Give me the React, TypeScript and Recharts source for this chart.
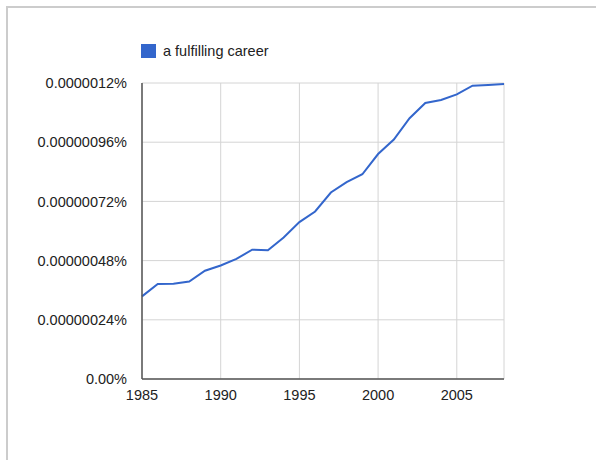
import React from 'react';
import { LineChart, Line, XAxis, YAxis, CartesianGrid } from 'recharts';

// values are in units of 0.00000001 %
const years = [
  1985, 1986, 1987, 1988, 1989, 1990, 1991, 1992, 1993, 1994, 1995, 1996,
  1997, 1998, 1999, 2000, 2001, 2002, 2003, 2004, 2005, 2006, 2007, 2008,
];
const fulfillingCareer = [
  33.5, 38.5, 38.6, 39.5, 43.9, 46.0, 48.7, 52.4, 52.2, 57.4, 63.6, 67.9,
  75.6, 79.8, 83.0, 91.2, 97.1, 105.7, 111.9, 113.1, 115.4, 118.9, 119.2, 119.6,
];
const yTicks = [0, 24, 48, 72, 96, 120];
const yTickLabels = [
  '0.00%',
  '0.00000024%',
  '0.00000048%',
  '0.00000072%',
  '0.00000096%',
  '0.0000012%',
];
const xTicks = [1985, 1990, 1995, 2000, 2005];
const seriesName = 'a fulfilling career';

const data = years.map((year, i) => ({ year, value: fulfillingCareer[i] }));

const font = 'Arial, "Liberation Sans", Helvetica, sans-serif';
const textColor = '#222222';
const lineColor = '#3366cc';

export default function App() {
  return (
    <div style={{ position: 'absolute', left: 0, top: 0, width: 596, height: 460, background: '#fff' }}>
      <div
        style={{
          position: 'absolute',
          left: 6,
          top: 6,
          right: 0,
          bottom: 0,
          borderTop: '2px solid #cccccc',
          borderLeft: '2px solid #cccccc',
        }}
      />
      {/* legend */}
      <div
        style={{
          position: 'absolute',
          left: 141,
          top: 43,
          display: 'flex',
          alignItems: 'center',
          fontFamily: font,
          fontSize: 14.5,
          color: textColor,
        }}
      >
        <span style={{ display: 'inline-block', width: 15, height: 14, background: lineColor, marginRight: 7 }} />
        <span>{seriesName}</span>
      </div>
      <LineChart
        width={596}
        height={460}
        data={data}
        margin={{ top: 83, right: 92, bottom: 51, left: 12 }}
        style={{ position: 'absolute', left: 0, top: 0 }}
      >
        <CartesianGrid stroke="#d4d4d4" strokeWidth={1} />
        <XAxis
          dataKey="year"
          type="number"
          domain={[1985, 2008]}
          ticks={xTicks}
          height={30}
          tickSize={0}
          tickMargin={11}
          axisLine={{ stroke: '#555555', strokeWidth: 1.5 }}
          tick={{ fill: textColor, fontSize: 14.5, fontFamily: font }}
          interval={0}
        />
        <YAxis
          type="number"
          domain={[0, 120]}
          ticks={yTicks}
          width={130}
          tickSize={0}
          tickMargin={15}
          tickFormatter={(v) => yTickLabels[yTicks.indexOf(v)]}
          axisLine={{ stroke: '#555555', strokeWidth: 1.5 }}
          tick={{ fill: textColor, fontSize: 14.5, fontFamily: font }}
          interval={0}
        />
        <Line
          type="linear"
          dataKey="value"
          name={seriesName}
          stroke={lineColor}
          strokeWidth={2}
          dot={false}
          isAnimationActive={false}
        />
      </LineChart>
    </div>
  );
}
